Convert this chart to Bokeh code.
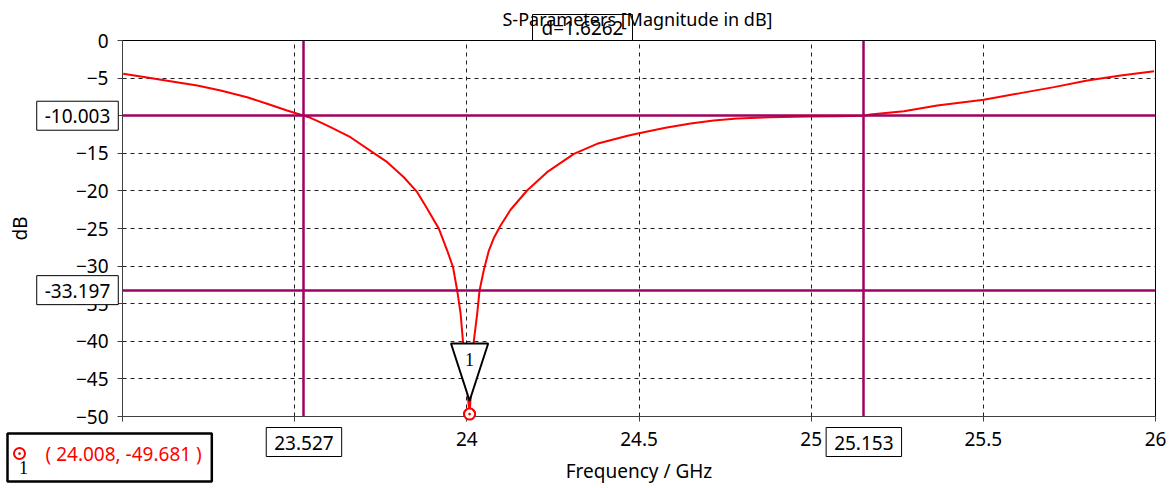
from bokeh.plotting import figure
from bokeh.models import Range1d, Label, FixedTicker
from bokeh.embed import file_html
from bokeh.resources import INLINE

# ---- data ----
freq = [23.002, 23.067, 23.139, 23.217, 23.285, 23.362, 23.420, 23.478, 23.527,
        23.546, 23.575, 23.604, 23.662, 23.730, 23.769, 23.817, 23.856, 23.885,
        23.919, 23.943, 23.960, 23.972, 23.982, 23.989, 23.998, 24.008, 24.014,
        24.020, 24.030, 24.037, 24.049, 24.064, 24.078, 24.098, 24.127, 24.175,
        24.233, 24.311, 24.378, 24.470, 24.500, 24.577, 24.650, 24.717, 24.785,
        24.882, 24.988, 25.075, 25.153, 25.172, 25.269, 25.366, 25.501, 25.608,
        25.705, 25.802, 25.899, 25.996]
s11 = [-4.43, -4.88, -5.41, -5.98, -6.65, -7.54, -8.42, -9.31, -10.003,
       -10.28, -10.9, -11.53, -12.86, -14.98, -16.18, -18.18, -20.17, -22.38,
       -25.05, -27.93, -30.15, -33.24, -36.35, -40.12, -45.0, -49.681, -45.2,
       -40.12, -36.35, -33.24, -30.59, -27.93, -26.3, -24.6, -22.51, -19.95,
       -17.51, -15.07, -13.74, -12.63, -12.33, -11.61, -11.05, -10.64, -10.38,
       -10.2, -10.1, -10.08, -10.003, -9.84, -9.4, -8.64, -7.89, -7.0,
       -6.2, -5.32, -4.65, -4.08]

marker_f = 24.008
marker_db = -49.681
level_y = [-10.003, -33.197]
level_x = [23.527, 25.153]
delta_text = "d=1.6262"
x_ticks = [23, 23.5, 24, 24.5, 25, 25.5, 26]
y_ticks = [0, -5, -10, -15, -20, -25, -30, -35, -40, -45, -50]
title_text = "S-Parameters [Magnitude in dB]"
x_label = "Frequency / GHz"
y_label = "dB"

FONT = "Noto Sans"
FS = "19px"
PURPLE = "#A0005F"
W, H = 1172, 488
FL, FR, FT, FB = 122, 1155, 40, 416   # frame edges in page px
X0, X1, Y0, Y1 = 23.0, 26.0, -50.0, 0.0

p = figure(width=W, height=H, output_backend="svg", toolbar_location=None,
           x_range=Range1d(X0, X1), y_range=Range1d(Y0, Y1),
           min_border_left=FL, min_border_right=W - FR,
           min_border_top=FT, min_border_bottom=H - FB)
p.background_fill_color = "white"
p.border_fill_color = "white"
p.outline_line_color = "black"
p.outline_line_width = 1

for ax in (p.xaxis[0], p.yaxis[0]):
    ax.axis_line_color = "#404040"
    ax.major_tick_line_color = "#404040"
    ax.major_tick_out = 5
    ax.major_tick_in = 0
    ax.minor_tick_out = 0
    ax.minor_tick_in = 0
    ax.major_label_text_font = FONT
    ax.major_label_text_font_size = FS
    ax.major_label_text_color = "black"
    ax.axis_label_text_font = FONT
    ax.axis_label_text_font_size = FS
    ax.axis_label_text_font_style = "normal"
    ax.axis_label_text_color = "black"

p.xaxis.ticker = FixedTicker(ticks=x_ticks)
p.yaxis.ticker = FixedTicker(ticks=y_ticks)
p.xaxis.major_label_overrides = {23: "", 23.5: ""}
p.xaxis.major_label_standoff = 10
p.yaxis.major_label_standoff = 9
p.xaxis.axis_label = x_label
p.xaxis.axis_label_standoff = 9
p.yaxis.axis_label = y_label
p.yaxis.axis_label_standoff = 40

for g in (p.xgrid[0], p.ygrid[0]):
    g.grid_line_color = "#202020"
    g.grid_line_dash = "4 4"
    g.grid_line_width = 1
p.xgrid.ticker = FixedTicker(ticks=x_ticks)
p.ygrid.ticker = FixedTicker(ticks=y_ticks)

# curve
p.line(freq, s11, line_color="#FF0000", line_width=2)

# marker level lines
p.hspan(y=level_y, line_color=PURPLE, line_width=2.5)
p.vspan(x=level_x, line_color=PURPLE, line_width=2.5)

# marker triangle (derived from marker point)
half_w = 0.054
tri_top = -40.3
tri_tip = -47.9
p.patch([marker_f - half_w, marker_f + half_w, marker_f],
        [tri_top, tri_top, tri_tip],
        fill_color="white", line_color="black", line_width=2)
p.scatter([marker_f], [marker_db], marker="circle_dot", size=11,
          line_color="#FF0000", fill_color="white", line_width=2)
p.add_layout(Label(x=marker_f, y=-42.4, text="1", text_align="center",
                   text_baseline="middle", text_font="Liberation Serif",
                   text_font_size="18px", text_color="black"))

# ---- transparent overlay (separate root) for texts outside the frame ----
def px_x(f):
    return FL + (f - X0) * (FR - FL) / (X1 - X0)
def px_y(db):
    return FT + (Y1 - db) * (FB - FT) / (Y1 - Y0)

ov = figure(width=W, height=H, output_backend="svg", toolbar_location=None,
            x_range=Range1d(0, W), y_range=Range1d(H, 0), min_border=0,
            x_axis_location=None, y_axis_location=None,
            background_fill_color=None, border_fill_color=None,
            outline_line_color=None,
            styles={"position": "absolute", "left": "0px", "top": "0px"})
ov.xgrid.visible = False
ov.ygrid.visible = False

def box(x, y, text, align="center", baseline="middle", color="black", bw=1,
        pad=None, fill="white", font=FONT, size=FS):
    kw = dict(x=x, y=y, text=text, text_align=align, text_baseline=baseline,
              text_font=font, text_font_size=size, text_color=color)
    if pad is not None:
        kw.update(border_line_color="black", border_line_width=bw,
                  background_fill_color=fill, padding=pad)
    ov.add_layout(Label(**kw))

# title
box(637, 18, title_text, size="18px")

# delta box on the top edge of the frame
box(582, FT, delta_text, baseline="bottom", fill=None,
    pad=dict(left=9, right=9, top=0, bottom=0))

# y level boxes
for yv in level_y:
    box(77, px_y(yv), f"{yv:.3f}", pad=dict(left=8, right=8, top=8, bottom=7))
# x level boxes
for xv in level_x:
    box(px_x(xv), 441.5, f"{xv:.3f}", pad=dict(left=8, right=8, top=8, bottom=7))

# marker read-out box
box(7, 433, f"( {marker_f:.3f}, {marker_db:.3f} )", align="left", baseline="top",
    color="#FF0000", bw=2.5, fill=None, pad=dict(left=38, right=10, top=7, bottom=15))
ov.scatter([19], [453], marker="circle_dot", size=11, line_color="#FF0000",
           fill_color="white", line_width=2)
box(23, 467, "1", font="Liberation Serif", size="18px")

# marker circle drawn again, unclipped
ov.scatter([px_x(marker_f)], [px_y(marker_db)], marker="circle_dot", size=11,
           line_color="#FF0000", fill_color="white", line_width=2)

open("out.html", "w").write(file_html([p, ov], INLINE))
